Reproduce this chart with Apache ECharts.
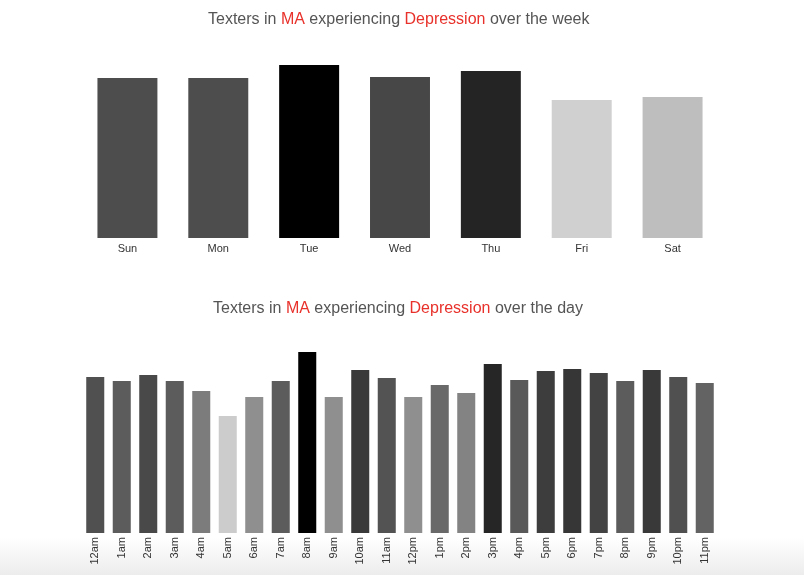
<!DOCTYPE html>
<html>
<head>
<meta charset="utf-8">
<script src="https://cdn.jsdelivr.net/npm/echarts@6/dist/echarts.min.js"></script>
<style>
  html, body {
    margin: 0;
    padding: 0;
    background: #fff;
  }
  /* faint shade along the bottom edge of the screenshot, behind the canvas */
  #chart {
    width: 804px;
    height: 575px;
    background: linear-gradient(to bottom, #fff 0px, #fff 538px, #ececec 575px);
  }
</style>
</head>
<body>
<div id="chart"></div>
<script>
// Week chart data
const weekDays = ['Sun', 'Mon', 'Tue', 'Wed', 'Thu', 'Fri', 'Sat'];
const weekValues = [160, 160, 173, 161, 167, 138, 141];

// Day chart data
const dayHours = ['12am', '1am', '2am', '3am', '4am', '5am', '6am', '7am', '8am', '9am', '10am', '11am',
  '12pm', '1pm', '2pm', '3pm', '4pm', '5pm', '6pm', '7pm', '8pm', '9pm', '10pm', '11pm'];
const dayValues = [156, 152, 158, 152, 142, 117, 136, 152, 181, 136, 163, 155,
  136, 148, 140, 169, 153, 162, 164, 160, 152, 163, 156, 150];

const place = 'MA';
const topic = 'Depression';

const titleRich = {
  g: { color: '#555', fontSize: 16, fontWeight: 'normal', fontFamily: 'Liberation Sans' },
  r: { color: '#e8312b', fontSize: 16, fontWeight: 'normal', fontFamily: 'Liberation Sans' },
};

// Build a title with the place and topic in red
const makeTitle = (when, left, top) => ({
  text: `{g|Texters in }{r|${place}}{g| experiencing }{r|${topic}}{g| over the ${when}}`,
  left: left,
  top: top,
  padding: 0,
  textStyle: { fontWeight: 'normal', rich: titleRich },
});

const axisLabel = {
  color: '#333',
  fontSize: 11,
  fontFamily: 'Liberation Sans',
  margin: 5,
};

const option = {
  animation: false,
  title: [makeTitle('week', 208, 12), makeTitle('day', 213, 301)],
  grid: [
    { left: 82, right: 86, top: 65, bottom: 337 },
    { left: 82, right: 86, top: 352, bottom: 42 },
  ],
  xAxis: [
    {
      gridIndex: 0,
      type: 'category',
      data: weekDays,
      axisLine: { show: false },
      axisTick: { show: false },
      axisLabel: axisLabel,
    },
    {
      gridIndex: 1,
      type: 'category',
      data: dayHours,
      axisLine: { show: false },
      axisTick: { show: false },
      axisLabel: { ...axisLabel, rotate: 90, interval: 0, margin: 4 },
    },
  ],
  yAxis: [
    { gridIndex: 0, type: 'value', min: 0, max: Math.max(...weekValues), show: false },
    { gridIndex: 1, type: 'value', min: 0, max: Math.max(...dayValues), show: false },
  ],
  // shade each bar from light grey (lowest) to black (highest)
  visualMap: [
    {
      show: false,
      seriesIndex: 0,
      min: Math.min(...weekValues),
      max: Math.max(...weekValues),
      inRange: { color: ['#d0d0d0', '#000000'] },
    },
    {
      show: false,
      seriesIndex: 1,
      min: Math.min(...dayValues),
      max: Math.max(...dayValues),
      inRange: { color: ['#cccccc', '#000000'] },
    },
  ],
  series: [
    {
      type: 'bar',
      xAxisIndex: 0,
      yAxisIndex: 0,
      data: weekValues,
      barCategoryGap: '34%',
    },
    {
      type: 'bar',
      xAxisIndex: 1,
      yAxisIndex: 1,
      data: dayValues,
      barCategoryGap: '32%',
    },
  ],
};

const chart = echarts.init(document.getElementById('chart'));
chart.setOption(option);
</script>
</body>
</html>
